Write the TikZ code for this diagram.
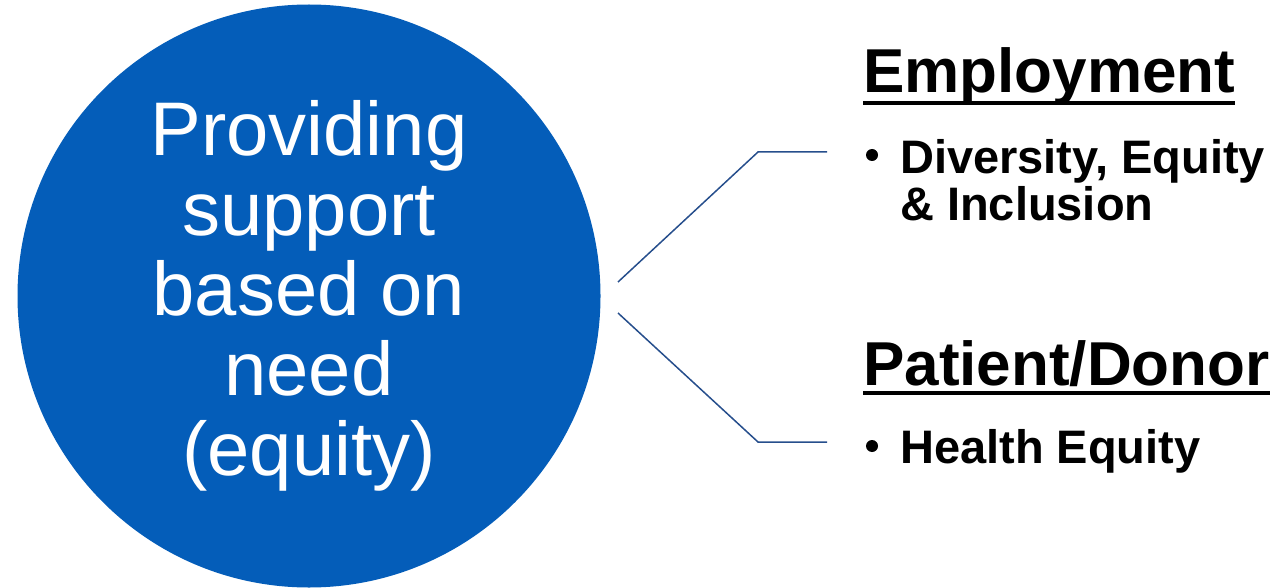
\documentclass[tikz,border=0pt]{standalone}
\usepackage{fontspec}
\setmainfont{Liberation Sans}
\definecolor{circblue}{RGB}{4,93,185}
\definecolor{linkblue}{RGB}{38,78,140}
\begin{document}
\begin{tikzpicture}[x=1pt,y=-1pt,
  bigtext/.style={text=white,inner sep=0pt,align=center,font=\fontsize{76}{80}\selectfont},
  headtext/.style={inner sep=0pt,anchor=base west,font=\bfseries\fontsize{62}{62}\selectfont},
  itemtext/.style={inner sep=0pt,anchor=base west,align=left,font=\bfseries\fontsize{47}{47}\selectfont},
  bulletdot/.style={circle,fill=black,inner sep=0pt,minimum size=12pt},
  link/.style={draw=linkblue,line width=1.5pt},
  uline/.style={line width=4pt}]
\useasboundingbox (0,0) rectangle (1281,588);
\node[circle,fill=circblue,minimum size=583pt,inner sep=0pt] (c) at (309,296) {};
\node[bigtext] (ct) at (309,296) {Providing\\support\\based on\\need\\(equity)};
% connectors
\coordinate (a1) at (618,282);
\coordinate (a2) at (758,152);
\coordinate (a3) at (827,152);
\coordinate (b1) at (618,313);
\coordinate (b2) at (758,442);
\coordinate (b3) at (827,442);
\draw[link] (a1) -- (a2) -- (a3);
\draw[link] (b1) -- (b2) -- (b3);
% headings
\node[headtext] (h1) at (863,93) {Employment};
\draw[uline] ([yshift=-10pt]h1.base west) -- ([yshift=-10pt]h1.base east);
\node[headtext] (h2) at (863,385) {Patient/Donor};
\draw[uline] ([yshift=-8pt]h2.base west) -- ([yshift=-8pt]h2.base east);
% items
\node[bulletdot] (d1) at (872,155) {};
\node[itemtext] (i1) at (900,220) {Diversity, Equity\\\& Inclusion};
\node[bulletdot] (d2) at (872,446) {};
\node[itemtext] (i2) at (900,463) {Health Equity};
\end{tikzpicture}
\end{document}
